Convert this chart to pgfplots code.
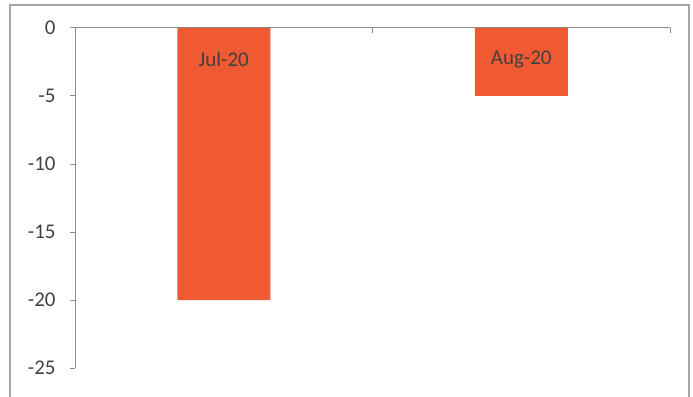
\documentclass[border=0pt]{standalone}
\usepackage{pgfplots}
\pgfplotsset{compat=1.18}
\usepackage{fontspec}
\setmainfont{Carlito}
\definecolor{barc}{HTML}{F05A32}
\definecolor{axc}{HTML}{8C8C8C}
\definecolor{framec}{HTML}{A6A6A6}
\definecolor{txt}{HTML}{404040}
\begin{document}
\begin{tikzpicture}[x=1bp,y=1bp]
\clip (0,0) rectangle (693,396);
\draw[color=framec, line width=1.2bp] (10,-20) rectangle (689,391);
\begin{axis}[
  at={(75bp,28bp)}, anchor=south west,
  scale only axis, width=595bp, height=340bp,
  xmin=-0.5, xmax=1.5, ymin=-25, ymax=0,
  axis x line*=top, axis y line*=left,
  axis line style={color=axc, line width=1bp},
  xtick={-0.5,0.5,1.5}, xticklabels={},
  ytick={-25,-20,-15,-10,-5,0},
  tick align=outside,
  major tick length=5bp,
  every tick/.style={color=axc, line width=1bp},
  x tick style={yshift=-5bp},
  /pgf/number format/assume math mode=true,
  yticklabel style={font=\fontsize{21}{21}\selectfont, color=txt, xshift=-11bp},
  clip=false,
]
\addplot[ybar, bar width=93bp, fill=barc, draw=none] coordinates {(0,-20) (1,-5)};
\node[color=txt, font=\fontsize{21}{21}\selectfont] at (axis cs:0,-2.3) {Jul-20};
\node[color=txt, font=\fontsize{21}{21}\selectfont] at (axis cs:1,-2.3) {Aug-20};
\end{axis}
\end{tikzpicture}
\end{document}
